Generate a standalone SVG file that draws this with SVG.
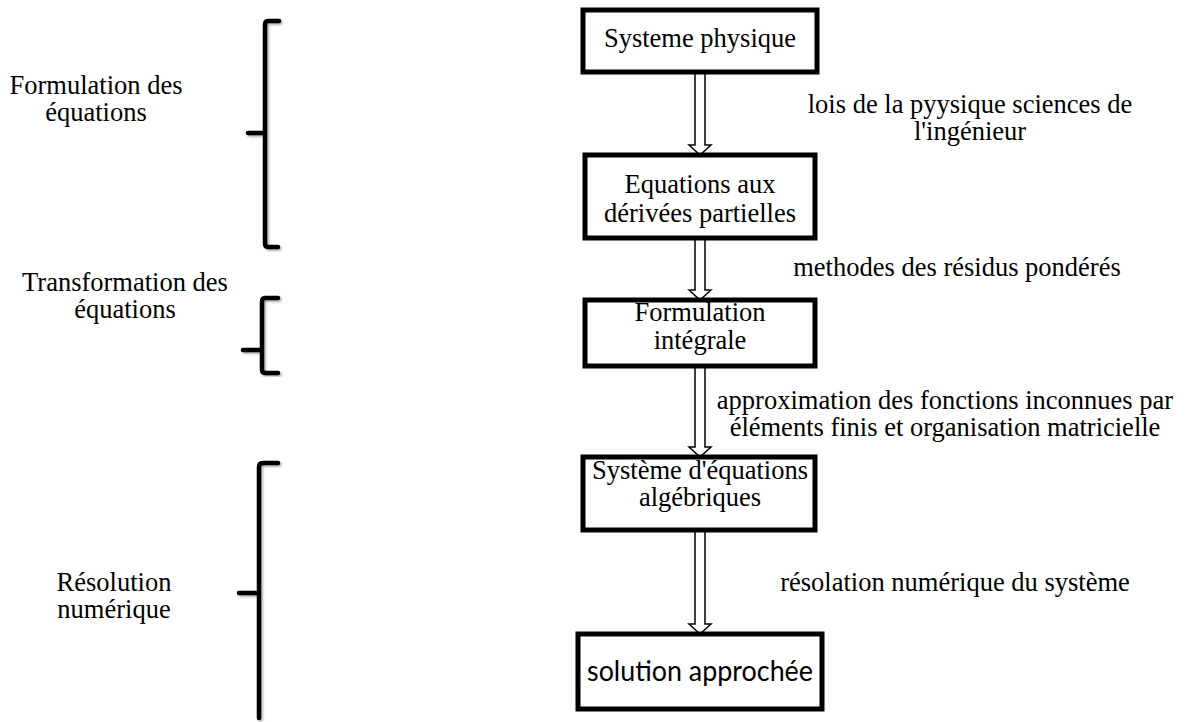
<svg xmlns="http://www.w3.org/2000/svg" width="1189" height="722" viewBox="0 0 1189 722">
<defs>
<filter id="sh" x="-50%" y="-5%" width="200%" height="110%"><feDropShadow dx="1.5" dy="1.5" stdDeviation="1.2" flood-color="#000" flood-opacity="0.35"/></filter>
</defs>
<style>
.box{fill:#fff;stroke:#000;stroke-width:5}
.t{font-family:"Liberation Serif","Times New Roman",serif;font-size:26.5px;fill:#000}
.m{text-anchor:middle}
.s{font-family:Lato,"Open Sans",sans-serif;font-size:29px;fill:#000;text-anchor:middle}
.br{fill:none;stroke:#000;stroke-width:4.5;stroke-linecap:round;stroke-linejoin:round;filter:url(#sh)}
.ar{fill:#fff;stroke:#000;stroke-width:1.5}
</style>
<rect width="1189" height="722" fill="#fff"/>
<g id="labels-left">
<text class="t m" x="96" y="94">Formulation des</text>
<text class="t m" x="96" y="121">équations</text>
<text class="t m" x="125" y="291">Transformation des</text>
<text class="t m" x="125" y="318">équations</text>
<text class="t m" x="114" y="591">Résolution</text>
<text class="t m" x="114" y="618">numérique</text>
</g>
<g id="brackets">
<path class="br" d="M279 21 L268 21 Q265 21 265 25 L265 243 Q265 247 268 247 L278 247 M248 133 L265 133"/>
<path class="br" d="M278 298 L265 298 Q262 298 262 302 L262 369 Q262 373 265 373 L278 373 M243 350 L262 350"/>
<path class="br" d="M278 463 L263 463 Q259 463 259 467 L259 718 M239 593 L259 593"/>
</g>
<g id="connectors">
<path class="ar" d="M695 72 L695 145 L689 145 L700 155 L711 145 L705 145 L705 72"/>
<path class="ar" d="M695 238 L695 290 L689 290 L700 300 L711 290 L705 290 L705 238"/>
<path class="ar" d="M695 366 L695 447 L689 447 L700 457 L711 447 L705 447 L705 366"/>
<path class="ar" d="M695 530 L695 624 L689 624 L700 634 L711 624 L705 624 L705 530"/>
</g>
<g id="edge-labels">
<text class="t m" x="970" y="113">lois de la pyysique sciences de</text>
<text class="t m" x="970" y="140">l'ingénieur</text>
<text class="t m" x="957" y="276">methodes des résidus pondérés</text>
<text class="t m" x="945" y="409">approximation des fonctions inconnues par</text>
<text class="t m" x="945" y="436">éléments finis et organisation matricielle</text>
<text class="t m" x="955" y="591">résolation numérique du système</text>
</g>
<g id="n1"><rect class="box" x="583" y="10" width="234" height="62"/><text class="t m" x="700" y="47">Systeme physique</text></g>
<g id="n2"><rect class="box" x="585" y="155" width="230" height="83"/><text class="t m" x="700" y="193">Equations aux</text><text class="t m" x="700" y="222">dérivées partielles</text></g>
<g id="n3"><rect class="box" x="585" y="300" width="230" height="66"/><text class="t m" x="700" y="321">Formulation</text><text class="t m" x="700" y="349">intégrale</text></g>
<g id="n4"><rect class="box" x="583" y="457" width="232" height="73"/><text class="t m" x="700" y="479">Système d'équations</text><text class="t m" x="700" y="506">algébriques</text></g>
<g id="n5"><rect class="box" x="578" y="634" width="244" height="75"/><text class="s" x="700" y="681" textLength="226" lengthAdjust="spacingAndGlyphs">solution approchée</text></g>
</svg>
